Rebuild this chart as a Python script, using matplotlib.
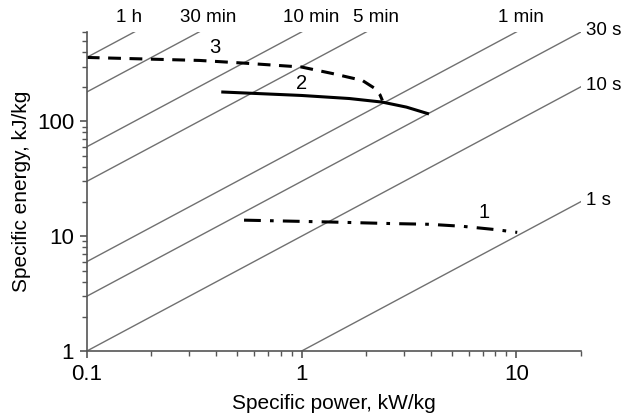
import numpy as np
from matplotlib import pyplot as plt
from matplotlib.ticker import FixedLocator, FixedFormatter, LogLocator, NullFormatter

plt.rcParams['font.family'] = ['Liberation Sans', 'DejaVu Sans']

# iso-time lines: E (kJ/kg) = P (kW/kg) * t (s)
iso_times = [3600, 1800, 600, 300, 60, 30, 10, 1]
iso_labels = ["1 h", "30 min", "10 min", "5 min", "1 min", "30 s", "10 s", "1 s"]
# label anchor (P, E) for each line label
iso_label_pos = [(0.158, 800), (0.369, 800), (1.11, 800), (2.23, 800), (10.5, 800),
                 (21.2, 618), (21.2, 206), (21.2, 20.6)]

# curve 1 (dash-dot)
p1 = [0.54, 1.35, 2.56, 3.94, 5.61, 8.07, 10.1]
e1 = [13.8, 13.3, 12.9, 12.7, 12.2, 11.4, 10.8]
# curve 2 (solid)
p2 = [0.43, 1.0, 1.67, 2.38, 3.08, 3.86]
e2 = [180, 168, 158, 147, 133, 117]
# curve 3 (dashed)
p3 = [0.1, 0.335, 0.543, 1.0, 1.39, 1.92, 2.18, 2.32, 2.38]
e3 = [360, 339, 321, 297, 261, 227, 195, 170, 152]

curve_labels = ["1", "2", "3"]
curve_label_pos = [(7.1, 16.2), (1.0, 214), (0.394, 440)]


def main():
    fig = plt.figure(figsize=(6.24, 4.15), dpi=100)
    ax = fig.add_axes([0.139, 0.154, 0.792, 0.769])
    ax.set_xscale("log")
    ax.set_yscale("log")
    ax.set_xlim(0.1, 20)
    ax.set_ylim(1, 600)

    pp = np.array([0.1, 20.0])
    for t in iso_times:
        ax.plot(pp, pp * t, color="#707070", lw=1.0)

    for lab, (x, y) in zip(iso_labels, iso_label_pos):
        ha = "left" if lab.endswith(" s") else "center"
        ax.text(x, y, lab, ha=ha, va="center", fontsize=13.5, clip_on=False)

    ax.plot(p1, e1, color="black", lw=2.2, dashes=(5.5, 3, 1.2, 3))
    ax.plot(p2, e2, color="black", lw=2.2)
    ax.plot(p3, e3, color="black", lw=2.2, dashes=(4.2, 2.8))

    for lab, (x, y) in zip(curve_labels, curve_label_pos):
        ax.text(x, y, lab, ha="center", va="center", fontsize=14.5)

    for s in ["top", "right"]:
        ax.spines[s].set_visible(False)
    for s in ["left", "bottom"]:
        ax.spines[s].set_color("#555555")
        ax.spines[s].set_linewidth(1.2)

    ax.xaxis.set_major_locator(FixedLocator([0.1, 1, 10]))
    ax.xaxis.set_major_formatter(FixedFormatter(["0.1", "1", "10"]))
    ax.yaxis.set_major_locator(FixedLocator([1, 10, 100]))
    ax.yaxis.set_major_formatter(FixedFormatter(["1", "10", "100"]))
    ax.xaxis.set_minor_locator(LogLocator(base=10, subs=np.arange(2, 10)))
    ax.yaxis.set_minor_locator(LogLocator(base=10, subs=np.arange(2, 10)))
    ax.xaxis.set_minor_formatter(NullFormatter())
    ax.yaxis.set_minor_formatter(NullFormatter())
    ax.tick_params(which="major", direction="out", length=5, width=1.2, color="#555555",
                   labelsize=16, pad=4)
    ax.tick_params(which="minor", direction="out", length=3.5, width=1.0, color="#555555")

    ax.set_xlabel("Specific power, kW/kg", fontsize=15, labelpad=7)
    ax.set_ylabel("Specific energy, kJ/kg", fontsize=15, labelpad=4)

    fig.savefig("out.png", dpi=100)


if __name__ == "__main__":
    main()
